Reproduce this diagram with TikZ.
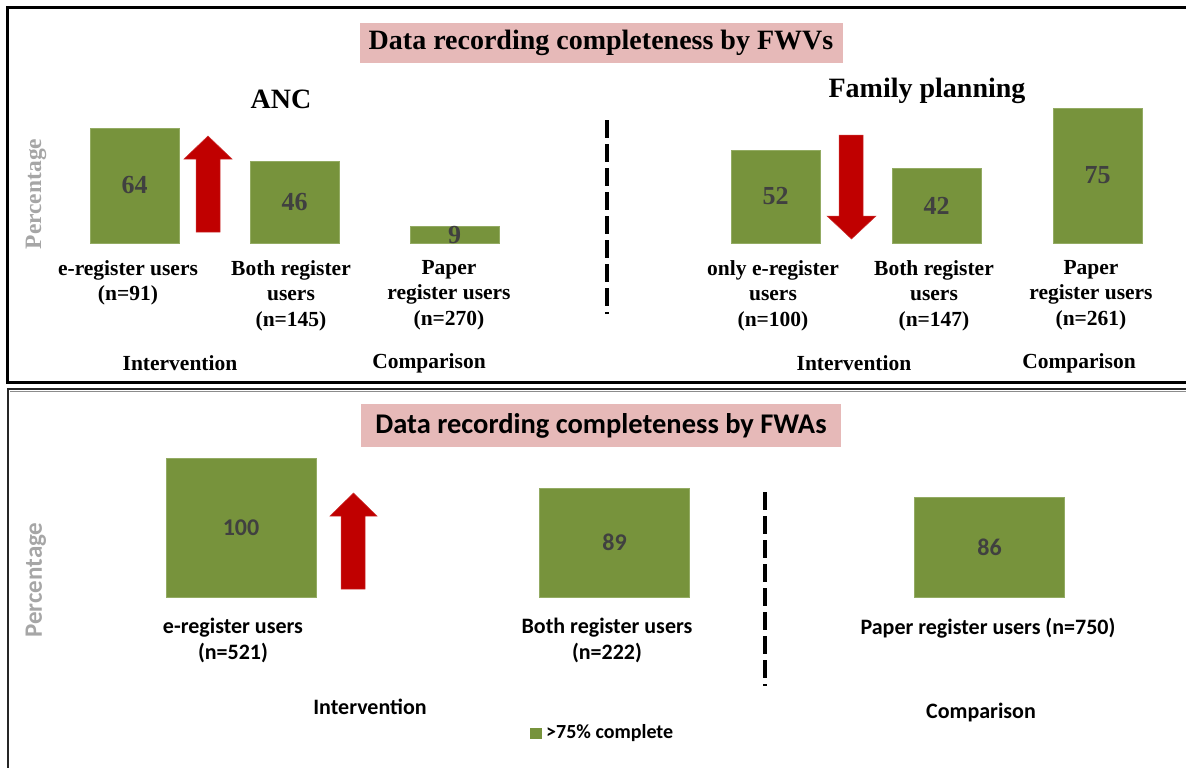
\documentclass[tikz,border=0pt]{standalone}
\usepackage{fontspec}
\setmainfont{Liberation Serif}
\newfontfamily\calfont{Carlito}
\definecolor{bargreen}{HTML}{77933C}
\definecolor{baredge}{HTML}{93AB63}
\definecolor{arrowred}{HTML}{C00000}
\definecolor{titlepink}{HTML}{E6B9B8}
\definecolor{valgray}{HTML}{404040}
\definecolor{axisgray}{HTML}{A6A6A6}
\begin{document}
\begin{tikzpicture}[x=1pt,y=-1pt,
  bar/.style={fill=bargreen,draw=baredge,line width=0.8pt,inner sep=0pt,text=valgray},
  topval/.style={font=\bfseries\fontsize{26}{30}\selectfont},
  botval/.style={font=\calfont\bfseries\fontsize{24}{28}\selectfont},
  toptitle/.style={fill=titlepink,inner sep=0pt,font=\bfseries\fontsize{28}{32}\selectfont},
  bottitle/.style={fill=titlepink,inner sep=0pt,font=\calfont\bfseries\fontsize{28.5}{32}\selectfont},
  toplabel/.style={align=center,anchor=north,inner sep=0pt,font=\bfseries\fontsize{21.5}{25.5}\selectfont},
  botlabel/.style={align=center,anchor=north,inner sep=0pt,font=\calfont\bfseries\fontsize{22}{25.5}\selectfont},
  topgroup/.style={inner sep=0pt,font=\bfseries\fontsize{21.5}{25}\selectfont},
  botgroup/.style={inner sep=0pt,font=\calfont\bfseries\fontsize{22}{25}\selectfont},
  sectitle/.style={inner sep=0pt,font=\bfseries\fontsize{28}{32}\selectfont},
  axislabel/.style={rotate=90,inner sep=0pt,text=axisgray},
  divider/.style={line width=4.5pt,dash pattern=on 18pt off 6pt},
  trend/.style={fill=arrowred,draw=arrowred!80!white,line width=0.5pt}]
\useasboundingbox (0,0) rectangle (1186,768);

% ---------- upper panel: FWVs ----------
\draw[line width=2.2pt] (1186,7.5) -- (7.5,7.5) -- (7.5,382.5) -- (1186,382.5);
\node[toptitle,minimum width=483,minimum height=40] (t1) at (601,43) {Data recording completeness by FWVs};
\node[sectitle] (anc) at (281,99) {ANC};
\node[sectitle] (fp) at (927,91) {Family planning};
\node[axislabel,font=\bfseries\fontsize{23.5}{26}\selectfont] (p1) at (36,194) {Percentage};

% ANC bars
\node[bar,topval,minimum width=89,minimum height=115] (a1) at (134.5,185.5) {64};
\node[bar,topval,minimum width=89,minimum height=82] (a2) at (294.5,202) {46};
\node[bar,topval,minimum width=89,minimum height=16] (a3) at (454.5,235) {9};
\fill[trend] (196,232) -- (196,159) -- (184,159) -- (208,136) -- (232,159) -- (220,159) -- (220,232) -- cycle;

\node[toplabel] (la1) at (128,260) {e-register users\\(n=91)};
\node[toplabel] (la2) at (291,260) {Both register\\users\\(n=145)};
\node[toplabel] (la3) at (449,260) {Paper\\register users\\(n=270)};
\node[topgroup] (ga1) at (180,363) {Intervention};
\node[topgroup] (ga2) at (429,363) {Comparison};

% divider between ANC and family planning
\coordinate (d1a) at (607,120);
\coordinate (d1b) at (607,314);
\draw[divider] (d1a) -- (d1b);

% Family planning bars
\node[bar,topval,minimum width=89,minimum height=93] (f1) at (775.5,196.5) {52};
\node[bar,topval,minimum width=89,minimum height=75] (f2) at (936.5,205.5) {42};
\node[bar,topval,minimum width=89,minimum height=135] (f3) at (1097.5,175.5) {75};
\fill[trend] (839,135) -- (839,216) -- (827,216) -- (851.5,239) -- (876,216) -- (863,216) -- (863,135) -- cycle;

\node[toplabel] (lf1) at (773,260) {only e-register\\users\\(n=100)};
\node[toplabel] (lf2) at (934,260) {Both register\\users\\(n=147)};
\node[toplabel] (lf3) at (1091,260) {Paper\\register users\\(n=261)};
\node[topgroup] (gf1) at (854,363) {Intervention};
\node[topgroup] (gf2) at (1079,363) {Comparison};

% ---------- lower panel: FWAs ----------
\draw[line width=2pt,black!85] (1186,389) -- (7.5,389) -- (7.5,768);
\draw[line width=0.6pt,black!45] (1186,391.5) -- (10,391.5);
\node[bottitle,minimum width=480,minimum height=43] (t2) at (601,425.5) {Data recording completeness by FWAs};
\node[axislabel,font=\calfont\bfseries\fontsize{25}{28}\selectfont] (p2) at (36,580) {Percentage};

\node[bar,botval,minimum width=150,minimum height=139] (w1) at (241,527.5) {100};
\node[bar,botval,minimum width=150,minimum height=109] (w2) at (614.5,542.5) {89};
\node[bar,botval,minimum width=150,minimum height=100] (w3) at (989.5,547) {86};
\fill[trend] (341,589) -- (341,516) -- (330,516) -- (353.5,493) -- (377,516) -- (365,516) -- (365,589) -- cycle;

\coordinate (d2a) at (765,492);
\coordinate (d2b) at (765,686);
\draw[divider] (d2a) -- (d2b);

\node[botlabel] (lw1) at (233,618) {e-register users\\(n=521)};
\node[botlabel] (lw2) at (607,618) {Both register users\\(n=222)};
\node[botlabel] (lw3) at (988,618) {Paper register users (n=750)};
\node[botgroup] (gw1) at (370,707) {Intervention};
\node[botgroup] (gw2) at (981,713) {Comparison};

% legend
\node[fill=bargreen,minimum width=12,minimum height=11,inner sep=0pt] (key) at (536,733.5) {};
\node[anchor=west,inner sep=0pt,font=\calfont\bfseries\fontsize{20}{24}\selectfont] (keytext) at (546,733.5) {>75\% complete};
\end{tikzpicture}
\end{document}
